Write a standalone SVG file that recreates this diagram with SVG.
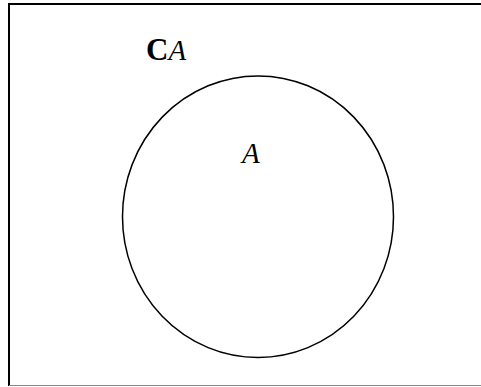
<svg xmlns="http://www.w3.org/2000/svg" width="481" height="387" viewBox="0 0 481 387">
<style>
.t{font-family:"Liberation Serif","Times New Roman",serif;font-size:29px;fill:#000}
.i{font-style:italic}
.b{font-weight:bold;font-style:normal;font-size:31px}
</style>
<rect width="481" height="387" fill="#fff"/>
<g id="universe">
<path d="M9,386 V4 H482" fill="none" stroke="#000" stroke-width="2"/>
<line x1="9" y1="385.5" x2="481" y2="385.5" stroke="#888" stroke-width="1"/>
<text class="t" x="146" y="60"><tspan class="b">C</tspan><tspan class="i">A</tspan></text>
</g>
<g id="setA">
<ellipse cx="258" cy="216.7" rx="135.5" ry="140.8" fill="none" stroke="#000" stroke-width="1.5"/>
<text class="t i" x="242" y="163">A</text>
</g>
</svg>
